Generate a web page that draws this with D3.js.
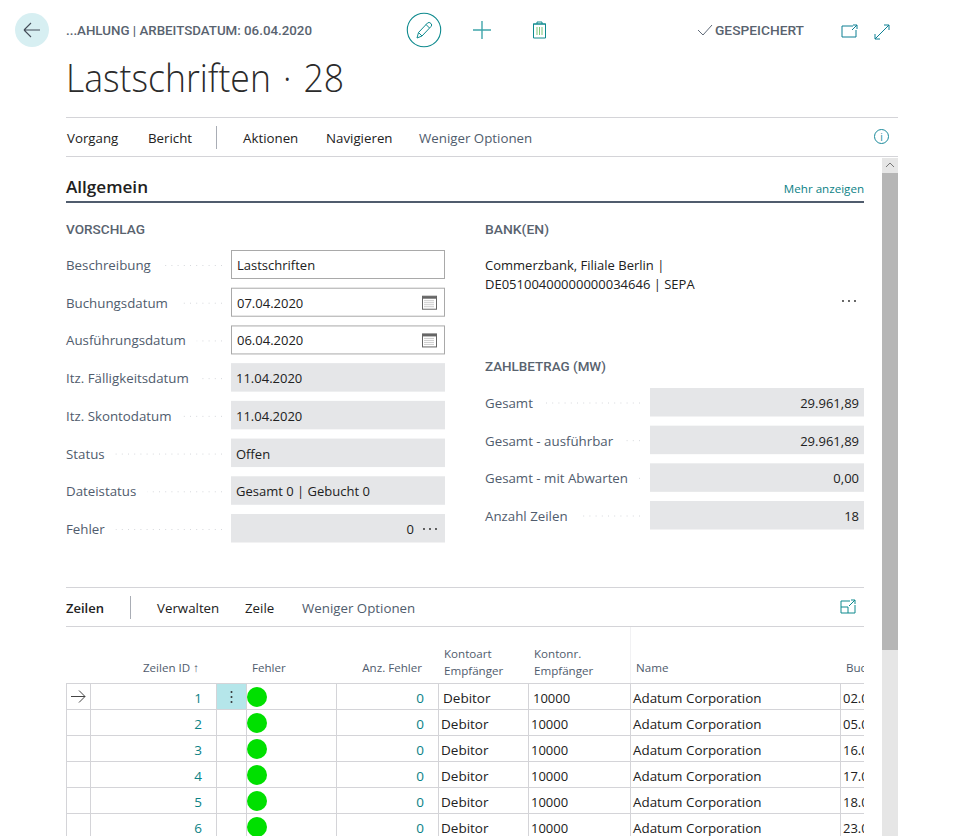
<!DOCTYPE html>
<html>
<head>
<meta charset="utf-8">
<script src="https://cdnjs.cloudflare.com/ajax/libs/d3/7.9.0/d3.min.js"></script>
<style>
html, body { margin: 0; padding: 0; background: #fff; overflow: hidden; }
svg { display: block; }
text { font-family: "Open Sans", "Noto Sans", sans-serif; font-size: 13px; fill: #212121; }
.caps { font-family: Roboto, sans-serif; font-weight: 500; fill: #59636f; }
.lbl { fill: #505c6d; font-size: 13.3px; }
.teal { fill: #0b8286; }
.menu { font-size: 13.3px; }
.head { font-size: 11.6px; }
</style>
</head>
<body>
<div id="chart"></div>
<script>
// data
const breadcrumb = "...AHLUNG | ARBEITSDATUM: 06.04.2020";
const pageTitle = "Lastschriften · 28";
const savedLabel = "GESPEICHERT";
const pageMenu = ["Vorgang", "Bericht", "Aktionen", "Navigieren", "Weniger Optionen"];
const lineMenu = ["Verwalten", "Zeile", "Weniger Optionen"];

const leftLabels = ["Beschreibung", "Buchungsdatum", "Ausführungsdatum", "Itz. Fälligkeitsdatum", "Itz. Skontodatum", "Status", "Dateistatus", "Fehler"];
const leftValues = ["Lastschriften", "07.04.2020", "06.04.2020", "11.04.2020", "11.04.2020", "Offen", "Gesamt 0 | Gebucht 0", "0"];
const leftEditable = [true, true, true, false, false, false, false, false];
const leftHasDate = [false, true, true, false, false, false, false, false];

const bankLines = ["Commerzbank, Filiale Berlin |", "DE05100400000000034646 | SEPA"];
const sumLabels = ["Gesamt", "Gesamt - ausführbar", "Gesamt - mit Abwarten", "Anzahl Zeilen"];
const sumValues = ["29.961,89", "29.961,89", "0,00", "18"];

const lineIds = [1, 2, 3, 4, 5, 6];
const lineErrors = [0, 0, 0, 0, 0, 0];
const lineTypes = ["Debitor", "Debitor", "Debitor", "Debitor", "Debitor", "Debitor"];
const lineAccounts = ["10000", "10000", "10000", "10000", "10000", "10000"];
const lineNames = ["Adatum Corporation", "Adatum Corporation", "Adatum Corporation", "Adatum Corporation", "Adatum Corporation", "Adatum Corporation"];
const lineDates = ["02.0", "05.0", "16.0", "17.0", "18.0", "23.0"];

const width = 960, height = 836;
const teal = "#0e8a8e", blueTeal = "#0c7f93", slate = "#505c6d", rule = "#d4d4d8", field = "#e5e6e8";

const svg = d3.select("#chart").append("svg")
    .attr("width", width)
    .attr("height", height);

// scales for the rows
const leftRow = d3.scaleLinear().domain([0, 7]).range([250, 514]);
const sumRow = d3.scaleLinear().domain([0, 3]).range([388, 501]);
const tableRow = d3.scaleLinear().domain([0, 1]).range([683.5, 709.5]);

function label(x, y, str, cls, opts)
{
    opts = opts || {};
    const t = svg.append("text")
        .attr("x", x)
        .attr("y", y)
        .attr("text-anchor", opts.anchor || "start")
        .text(str);
    if (cls) t.attr("class", cls);
    if (opts.size) t.style("font-size", opts.size + "px");
    if (opts.weight) t.style("font-weight", opts.weight);
    if (opts.fill) t.style("fill", opts.fill);
    if (opts.w) t.attr("textLength", opts.w).attr("lengthAdjust", "spacingAndGlyphs");
    return t;
}

function hline(x1, x2, y, color, sw)
{
    svg.append("line").attr("x1", x1).attr("x2", x2).attr("y1", y).attr("y2", y)
        .attr("stroke", color).attr("stroke-width", sw || 1);
}

function vline(x, y1, y2, color)
{
    svg.append("line").attr("x1", x).attr("x2", x).attr("y1", y1).attr("y2", y2)
        .attr("stroke", color).attr("stroke-width", 1);
}

function icon(x, y, d, color, sw)
{
    svg.append("path").attr("transform", `translate(${x},${y})`).attr("d", d)
        .attr("fill", "none").attr("stroke", color).attr("stroke-width", sw || 1);
}

function dots(xEnd, y, textNode)
{
    // dotted leader from the label to the field
    const start = textNode.node().getBBox().x + textNode.node().getComputedTextLength() + 11;
    if (start >= xEnd) return;
    svg.append("line")
        .attr("x1", xEnd).attr("x2", start).attr("y1", y).attr("y2", y)
        .attr("stroke", "#d6d8dc").attr("stroke-width", 1)
        .attr("stroke-dasharray", "1 5.2");
}

function ellipsis(cx, cy)
{
    svg.selectAll(null).data([-6, 0, 6]).enter().append("circle")
        .attr("cx", d => cx + d).attr("cy", cy).attr("r", 0.9).attr("fill", "#222");
}

// header
svg.append("circle").attr("cx", 32).attr("cy", 30).attr("r", 17).attr("fill", "#d7eff2");
icon(32, 30, "M-8,0H8M-8,0L-1,-7M-8,0L-1,7", "#444c58", 1.1);
label(66, 35, breadcrumb, "caps", { size: 12.5, w: 246 });
label(66, 92, pageTitle, null, { size: 38, weight: 300, w: 278, fill: "#2b2b2b" }).style("word-spacing", "3px");

svg.append("circle").attr("cx", 424).attr("cy", 30).attr("r", 16.7)
    .attr("fill", "none").attr("stroke", teal).attr("stroke-width", 1.1);
icon(424, 30, "M-7,8L-5.5,2.5L3.5,-7Q5,-8.5 7,-6.5Q8.5,-5 7,-3.5L-2,6ZM-5.5,2.5L-2,6M2,-5.5L5.5,-2", teal);
icon(482, 30, "M-9,0H9M0,-9V9", "#3fa5ab", 1.4);
icon(539.5, 30, "M-6,-6H6V8H-6ZM-6.5,-6H6.5M-2.5,-6V-8H2.5V-6", teal);
icon(539.5, 30, "M-2.5,-3V5M0,-3V5M2.5,-3V5", "#7cc576");
icon(705, 30, "M-7,0L-2,5L7,-5", "#606a78", 1);
label(715, 35, savedLabel, "caps", { size: 13, w: 89 });
icon(850, 31, "M3,-5H-8V6H6V-1M2,-1L7,-6M3,-6H7V-2", blueTeal);
icon(882, 32, "M-7,7L7,-7M2,-7H7V-2M-7,2V7H-2", blueTeal);

// page menu
hline(66, 898, 117.5, rule);
hline(66, 898, 156.5, rule);
const pageMenuX = d3.scaleOrdinal().domain(pageMenu).range([67, 148, 243, 326, 419]);
pageMenu.forEach((m, i) => {
    label(pageMenuX(m), 143, m, i === 4 ? "lbl menu" : "menu");
});
vline(216.5, 126, 149, "#a9adb5");
svg.append("circle").attr("cx", 881.5).attr("cy", 136.5).attr("r", 7)
    .attr("fill", "none").attr("stroke", "#1b8a9b");
label(881.5, 140.5, "i", null, { anchor: "middle", size: 10, fill: "#1b8a9b" });

// scrollbar
svg.append("rect").attr("x", 882).attr("y", 158).attr("width", 16).attr("height", 678).attr("fill", "#e6e6e6");
svg.append("rect").attr("x", 882).attr("y", 173).attr("width", 16).attr("height", 477).attr("fill", "#b6b6b6");
icon(890, 165, "M-4,2L0,-2L4,2", "#777");

// general section
label(66, 193, "Allgemein", null, { size: 16, weight: 600, w: 82 });
label(864, 193, "Mehr anzeigen", "teal", { anchor: "end", size: 11.6 });
hline(66, 864, 202, slate, 2);

label(66, 234, "VORSCHLAG", "caps", { size: 12.5, w: 79 });
label(485, 234, "BANK(EN)", "caps", { size: 12.5, w: 64 });
label(485, 371, "ZAHLBETRAG (MW)", "caps", { size: 12.5, w: 121 });

leftLabels.forEach((name, i) => {
    const top = leftRow(i);
    const t = label(66, top + 20, name, "lbl");
    dots(222, top + 15.5, t);
    if (leftEditable[i]) {
        svg.append("rect").attr("x", 231.5).attr("y", top + 0.5).attr("width", 213).attr("height", 28)
            .attr("fill", "#fff").attr("stroke", "#a9a9a9");
    } else {
        svg.append("rect").attr("x", 231).attr("y", top).attr("width", 214).attr("height", 28.5).attr("fill", field);
    }
    if (i === 7) {
        label(414, top + 20, leftValues[i], null, { anchor: "end" });
        ellipsis(430, top + 15);
    } else {
        label(leftEditable[i] ? 237 : 236, top + 20, leftValues[i]);
    }
    if (leftHasDate[i]) {
        const g = svg.append("g").attr("transform", `translate(429.5,${top + 15})`);
        g.append("rect").attr("x", -7).attr("y", -6.5).attr("width", 14).attr("height", 13).attr("fill", "none").attr("stroke", "#666");
        g.append("rect").attr("x", -7).attr("y", -6.5).attr("width", 14).attr("height", 2.5).attr("fill", "#666");
        g.append("path").attr("d", "M-5,-2H5M-5,0H5M-5,2H5M-5,4H5").attr("stroke", "#999").attr("stroke-width", 1).attr("stroke-dasharray", "1 1");
    }
});

bankLines.forEach((b, i) => {
    label(485, 270 + i * 19, b);
});
ellipsis(849, 301);

sumLabels.forEach((name, i) => {
    const top = sumRow(i);
    const t = label(485, top + 20, name, "lbl");
    dots(640, top + 15, t);
    svg.append("rect").attr("x", 650).attr("y", top).attr("width", 214).attr("height", 28.5).attr("fill", field);
    label(859, top + 20, sumValues[i], null, { anchor: "end" });
});

// lines section
hline(66, 864, 587.5, rule);
hline(66, 864, 626.5, rule);
label(66, 613, "Zeilen", null, { weight: 600 });
vline(130.5, 596, 619, "#a9adb5");
const lineMenuX = d3.scaleOrdinal().domain(lineMenu).range([157, 245, 302]);
lineMenu.forEach((m, i) => {
    label(lineMenuX(m), 613, m, i === 2 ? "lbl menu" : "menu");
});
icon(848, 607, "M2,-6H-7V6H7V-2M-7,0H0V6M1,-1L7,-7M3,-7H7V-3", teal);

// table
const colLines = [66.5, 90.5, 216.5, 246.5, 336.5, 438.5, 528.5, 630.5, 840.5];
const defs = svg.append("defs");
defs.append("clipPath").attr("id", "tableClip").append("rect")
    .attr("x", 66).attr("y", 627).attr("width", 798).attr("height", 209);
const table = svg.append("g").attr("clip-path", "url(#tableClip)");

vline(630.5, 627, 683, "#f1f1f3");
label(199, 672, "Zeilen ID ↑", "lbl head", { anchor: "end" });
label(252, 672, "Fehler", "lbl head");
label(422, 672, "Anz. Fehler", "lbl head", { anchor: "end" });
label(444, 658, "Kontoart", "lbl head");
label(444, 675, "Empfänger", "lbl head");
label(534, 658, "Kontonr.", "lbl head");
label(534, 675, "Empfänger", "lbl head");
label(636, 672, "Name", "lbl head");

table.append("text").attr("x", 846).attr("y", 672).attr("class", "lbl head").text("Buchungsdatum");

lineIds.forEach((id, i) => {
    const top = tableRow(i);
    const first = i === 0;
    if (first) {
        table.append("rect").attr("x", 217).attr("y", top).attr("width", 29.5).attr("height", 26).attr("fill", "#b5e6ea");
        table.selectAll(null).data([-5, 0, 5]).enter().append("circle")
            .attr("cx", 231.5).attr("cy", d => top + 13.5 + d).attr("r", 1).attr("fill", "#333");
        icon(78, top + 13, "M-7,0H7M7,0L1,-6M7,0L1,6", "#444");
    }
    hline(66, 864, top, rule);
    label(202, top + 19, id, "teal", { anchor: "end", size: 13.5 });
    table.append("circle").attr("cx", 257).attr("cy", top + 13.5).attr("r", 10).attr("fill", "#00e000");
    label(424, top + 19, lineErrors[i], "teal", { anchor: "end", size: 13.5 });
    label(first ? 443 : 441, top + 19, lineTypes[i], null, { size: 13.5 });
    label(first ? 533 : 531, top + 19, lineAccounts[i]);
    label(633, top + 19, lineNames[i], null, { size: 13.4 });
    table.append("text").attr("x", 843).attr("y", top + 19).text(lineDates[i]);
});

colLines.forEach(x => vline(x, 683, 836, rule));
</script>
</body>
</html>
